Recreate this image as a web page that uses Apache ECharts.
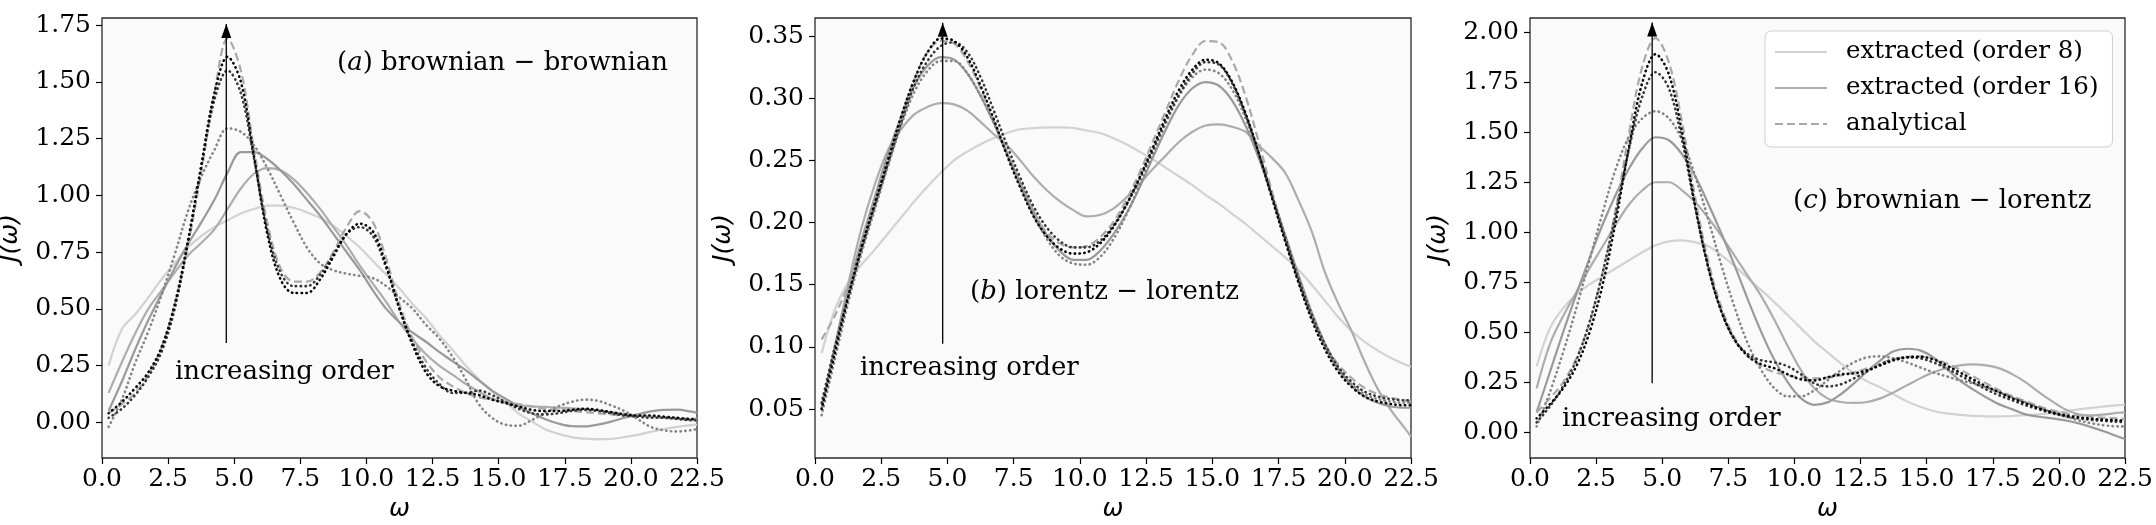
<!DOCTYPE html>
<html>
<head>
<meta charset="utf-8">
<script src="https://cdn.jsdelivr.net/npm/echarts@6/dist/echarts.min.js"></script>
<style>
html,body{margin:0;padding:0;background:#fff;}
#chart{width:2156px;height:525px;}
</style>
</head>
<body>
<div id="chart"></div>
<script>
// ---------- data ----------
const omega = [0.25,0.75,1.25,1.75,2.25,2.75,3.25,3.75,4.25,4.75,5.25,5.75,6.25,6.75,7.25,7.75,8.25,8.75,9.25,9.75,10.25,10.75,11.25,11.75,12.25,12.75,13.25,13.75,14.25,14.75,15.25,15.75,16.25,16.75,17.25,17.75,18.25,18.75,19.25,19.75,20.25,20.75,21.25,21.75,22.25,22.5];

const xTicks = [0,2.5,5,7.5,10,12.5,15,17.5,20,22.5];
const yTicksA = [0,0.25,0.5,0.75,1.0,1.25,1.5,1.75];
const yTicksB = [0.05,0.10,0.15,0.20,0.25,0.30,0.35];
const yTicksC = [0,0.25,0.5,0.75,1.0,1.25,1.5,1.75,2.0];

// (a) brownian - brownian
const aOrder8  = [0.25,0.41,0.475,0.55,0.63,0.70,0.77,0.82,0.86,0.89, 0.92,0.94,0.955,0.955,0.945,0.925,0.90,0.865,0.82,0.77, 0.71,0.65,0.59,0.52,0.46,0.385,0.32,0.25,0.19,0.135, 0.09,0.04,0.005,-0.03,-0.05,-0.065,-0.072,-0.075,-0.073,-0.065, -0.055,-0.042,-0.03,-0.02,-0.012,-0.01];
const aOrder16 = [0.13,0.265,0.39,0.50,0.58,0.66,0.735,0.79,0.85,0.94, 1.03,1.095,1.12,1.11,1.07,1.01,0.94,0.86,0.78,0.69, 0.61,0.53,0.44,0.365,0.30,0.25,0.21,0.17,0.135,0.105, 0.085,0.075,0.07,0.068,0.065,0.062,0.058,0.052,0.045,0.038, 0.03,0.025,0.02,0.015,0.01,0.008];
const aOrder24 = [0.05,0.18,0.32,0.45,0.565,0.68,0.785,0.88,0.98,1.10, 1.19,1.19,1.16,1.11,1.05,0.98,0.91,0.83,0.75,0.67, 0.58,0.50,0.44,0.395,0.355,0.31,0.27,0.23,0.185,0.14, 0.105,0.07,0.04,0.015,-0.005,-0.017,-0.018,-0.01,0.003,0.02, 0.035,0.048,0.055,0.056,0.048,0.042];
const aOrder32 = [-0.02,0.10,0.26,0.40,0.56,0.74,0.93,1.08,1.20,1.295, 1.28,1.22,1.12,1.00,0.88,0.77,0.70,0.67,0.655,0.645, 0.635,0.60,0.55,0.50,0.43,0.37,0.29,0.19,0.08,0.02, -0.01,-0.015,0.01,0.04,0.07,0.09,0.10,0.095,0.075,0.05, 0.015,-0.02,-0.035,-0.04,-0.035,-0.03];
const aOrder40 = [0.02,0.06,0.12,0.20,0.31,0.50,0.79,1.12,1.42,1.55, 1.45,1.16,0.85,0.66,0.60,0.60,0.65,0.74,0.83,0.86, 0.82,0.68,0.50,0.35,0.24,0.17,0.13,0.13,0.14,0.12, 0.09,0.06,0.04,0.035,0.04,0.05,0.055,0.05,0.04,0.03, 0.025,0.02,0.02,0.015,0.01,0.01];
const aOrder48 = [0.04,0.09,0.15,0.22,0.33,0.52,0.80,1.13,1.45,1.61, 1.50,1.17,0.83,0.63,0.57,0.57,0.63,0.73,0.83,0.875, 0.84,0.69,0.50,0.34,0.22,0.16,0.14,0.13,0.12,0.10, 0.085,0.07,0.055,0.05,0.05,0.055,0.06,0.055,0.045,0.035, 0.03,0.03,0.025,0.02,0.015,0.015];
const aAnalytical = [0.04,0.08,0.13,0.21,0.33,0.52,0.78,1.10,1.45,1.69, 1.55,1.20,0.88,0.68,0.62,0.62,0.66,0.75,0.86,0.93, 0.88,0.72,0.52,0.37,0.27,0.20,0.16,0.13,0.11,0.10, 0.09,0.08,0.07,0.06,0.055,0.05,0.045,0.04,0.035,0.03, 0.03,0.025,0.02,0.02,0.015,0.015];

// (b) lorentz - lorentz
const bOrder8  = [0.095,0.13,0.152,0.166,0.178,0.191,0.204,0.217,0.229,0.24, 0.25,0.257,0.263,0.268,0.272,0.275,0.276,0.2765,0.2765,0.276, 0.274,0.272,0.268,0.263,0.257,0.251,0.244,0.237,0.23,0.222, 0.215,0.207,0.199,0.19,0.181,0.172,0.162,0.15,0.137,0.124, 0.113,0.104,0.097,0.091,0.086,0.084];
const bOrder16 = [0.05,0.10,0.15,0.195,0.23,0.258,0.275,0.287,0.293,0.296, 0.295,0.29,0.281,0.271,0.262,0.25,0.237,0.226,0.217,0.21, 0.205,0.206,0.211,0.22,0.231,0.243,0.254,0.265,0.273,0.278, 0.279,0.277,0.273,0.262,0.252,0.24,0.218,0.193,0.16,0.135, 0.113,0.088,0.066,0.049,0.035,0.028];
const bOrder24 = [0.05,0.10,0.145,0.185,0.22,0.255,0.285,0.31,0.326,0.333, 0.331,0.32,0.302,0.28,0.256,0.232,0.209,0.19,0.177,0.17, 0.17,0.177,0.19,0.207,0.228,0.252,0.275,0.295,0.308,0.313, 0.31,0.298,0.278,0.252,0.222,0.19,0.158,0.128,0.103,0.083, 0.069,0.06,0.055,0.052,0.051,0.051];
const bOrder32 = [0.045,0.09,0.135,0.175,0.21,0.245,0.278,0.305,0.322,0.33, 0.33,0.32,0.302,0.28,0.255,0.23,0.206,0.187,0.173,0.167, 0.166,0.172,0.186,0.206,0.23,0.255,0.28,0.302,0.317,0.323, 0.32,0.307,0.284,0.254,0.22,0.186,0.153,0.124,0.1,0.082, 0.07,0.062,0.058,0.056,0.055,0.055];
const bOrder40 = [0.055,0.1,0.14,0.178,0.213,0.247,0.28,0.31,0.33,0.342, 0.345,0.337,0.317,0.29,0.262,0.236,0.213,0.196,0.185,0.18, 0.18,0.185,0.197,0.214,0.235,0.258,0.282,0.303,0.32,0.329, 0.327,0.312,0.287,0.256,0.222,0.188,0.155,0.126,0.102,0.084, 0.072,0.064,0.06,0.058,0.057,0.057];
const bOrder48 = [0.05,0.095,0.14,0.18,0.215,0.25,0.285,0.315,0.337,0.348, 0.346,0.333,0.31,0.283,0.254,0.228,0.205,0.189,0.179,0.175, 0.176,0.183,0.196,0.214,0.236,0.26,0.285,0.307,0.323,0.331, 0.328,0.313,0.288,0.256,0.22,0.185,0.152,0.122,0.098,0.08, 0.068,0.06,0.056,0.054,0.053,0.053];
const bAnalytical = [0.106,0.125,0.15,0.18,0.215,0.25,0.285,0.315,0.337,0.346, 0.344,0.33,0.308,0.282,0.255,0.23,0.208,0.192,0.183,0.18, 0.181,0.188,0.2,0.218,0.24,0.265,0.29,0.315,0.335,0.346, 0.345,0.33,0.302,0.265,0.225,0.187,0.152,0.124,0.102,0.086, 0.075,0.067,0.062,0.059,0.057,0.056];

// (c) brownian - lorentz
const cOrder8  = [0.33,0.52,0.62,0.69,0.74,0.78,0.82,0.86,0.90,0.935, 0.955,0.96,0.95,0.93,0.885,0.83,0.77,0.71,0.65,0.585, 0.52,0.455,0.40,0.345,0.295,0.255,0.225,0.19,0.155,0.128, 0.107,0.095,0.088,0.083,0.08,0.08,0.082,0.086,0.09,0.097, 0.105,0.115,0.123,0.13,0.136,0.138];
const cOrder16 = [0.22,0.44,0.58,0.70,0.82,0.93,1.04,1.14,1.21,1.25, 1.25,1.21,1.15,1.07,0.98,0.88,0.78,0.68,0.56,0.43, 0.31,0.22,0.17,0.152,0.147,0.152,0.17,0.2,0.235,0.27, 0.30,0.322,0.335,0.34,0.335,0.32,0.29,0.25,0.2,0.155, 0.115,0.09,0.085,0.09,0.098,0.1];
const cOrder24 = [0.10,0.30,0.50,0.69,0.87,1.04,1.19,1.32,1.42,1.475, 1.46,1.39,1.28,1.14,0.99,0.83,0.66,0.5,0.36,0.25, 0.17,0.138,0.15,0.19,0.245,0.305,0.36,0.405,0.418,0.41, 0.375,0.318,0.26,0.215,0.175,0.14,0.115,0.09,0.078,0.07, 0.06,0.045,0.025,0.003,-0.022,-0.033];
const cOrder32 = [0.03,0.2,0.4,0.62,0.86,1.1,1.32,1.48,1.57,1.605, 1.57,1.46,1.28,1.06,0.83,0.62,0.44,0.31,0.22,0.18, 0.18,0.21,0.26,0.31,0.35,0.375,0.38,0.37,0.35,0.325, 0.30,0.28,0.26,0.245,0.225,0.2,0.175,0.15,0.125,0.1, 0.08,0.06,0.045,0.035,0.03,0.03];
const cOrder40 = [0.05,0.13,0.23,0.36,0.55,0.8,1.1,1.42,1.68,1.80, 1.72,1.46,1.12,0.82,0.6,0.46,0.39,0.36,0.35,0.33, 0.29,0.245,0.23,0.24,0.27,0.305,0.34,0.365,0.375,0.37, 0.35,0.32,0.285,0.25,0.215,0.185,0.16,0.135,0.115,0.095, 0.08,0.07,0.062,0.057,0.053,0.052];
const cOrder48 = [0.07,0.14,0.22,0.33,0.5,0.74,1.06,1.43,1.75,1.89, 1.79,1.5,1.13,0.82,0.6,0.46,0.38,0.34,0.32,0.29, 0.265,0.26,0.275,0.29,0.295,0.31,0.335,0.36,0.375,0.378, 0.365,0.335,0.3,0.265,0.23,0.2,0.17,0.145,0.12,0.1, 0.085,0.075,0.068,0.063,0.06,0.058];
const cAnalytical = [0.1,0.17,0.25,0.37,0.55,0.8,1.12,1.5,1.83,1.97, 1.85,1.55,1.17,0.85,0.62,0.47,0.38,0.33,0.30,0.285, 0.275,0.27,0.275,0.285,0.3,0.32,0.345,0.365,0.378,0.38, 0.37,0.345,0.315,0.28,0.245,0.21,0.18,0.155,0.13,0.11, 0.095,0.085,0.078,0.073,0.07,0.068];

// "increasing order" arrows: [omega, start J, end J]
const arrowA = [4.7, 0.35, 1.755];
const arrowB = [4.82, 0.1025, 0.3607];
const arrowC = [4.62, 0.246, 2.048];

const legendNames = ['extracted (order 8)', 'extracted (order 16)', 'analytical'];

// ---------- chart ----------
const SERIF = 'DejaVu Serif';
const DOT = [0.4, 4.4];
const styles = {
  o8:  {color:'#d2d2d2', type:'solid', width:2.2},
  o16: {color:'#adadad', type:'solid', width:2.2},
  o24: {color:'#9a9a9a', type:'solid', width:2.2},
  o32: {color:'#858585', type:DOT, width:2.6, cap:'round'},
  o40: {color:'#383838', type:DOT, width:2.6, cap:'round'},
  o48: {color:'#050505', type:DOT, width:2.6, cap:'round'},
  an:  {color:'#a9a9a9', type:[8,4], width:2.2}
};
function pts(ys){ return omega.map((x,i)=>[x, ys[i]]); }
function line(name, ys, idx, st, z){
  return {
    name: name, type:'line', xAxisIndex: idx, yAxisIndex: idx,
    data: pts(ys), smooth: 0.35, symbol:'none', showSymbol:false, z: z,
    lineStyle: {color: st.color, type: st.type, width: st.width, cap: st.cap || 'butt'},
    itemStyle: {color: st.color},
    emphasis: {disabled: true}
  };
}
function arrow(a, idx){
  return {
    type:'line', xAxisIndex: idx, yAxisIndex: idx, z: 20, silent: true,
    symbol:'none',
    data: [
      {value:[a[0], a[1]], symbol:'none'},
      {value:[a[0], a[2]], symbol:'triangle', symbolSize:[10,14], symbolOffset:[0,7]}
    ],
    lineStyle:{color:'#000', width:1.3},
    itemStyle:{color:'#000'},
    emphasis:{disabled:true}
  };
}
const panels = [
  {d:[aOrder8,aOrder16,aOrder24,aOrder32,aOrder40,aOrder48,aAnalytical], ar:arrowA},
  {d:[bOrder8,bOrder16,bOrder24,bOrder32,bOrder40,bOrder48,bAnalytical], ar:arrowB},
  {d:[cOrder8,cOrder16,cOrder24,cOrder32,cOrder40,cOrder48,cAnalytical], ar:arrowC}
];
const series = [];
panels.forEach((p, i)=>{
  series.push(line(legendNames[0], p.d[0], i, styles.o8, 2));
  series.push(line(legendNames[1], p.d[1], i, styles.o16, 3));
  series.push(line('extracted (order 24)', p.d[2], i, styles.o24, 4));
  series.push(line('analytical', p.d[6], i, styles.an, 5));
  series.push(line('extracted (order 32)', p.d[3], i, styles.o32, 6));
  series.push(line('extracted (order 40)', p.d[4], i, styles.o40, 7));
  series.push(line('extracted (order 48)', p.d[5], i, styles.o48, 8));
  series.push(arrow(p.ar, i));
});

const gridDefs = [
  {left:102, top:18, width:595, height:440},
  {left:815, top:18, width:596, height:440},
  {left:1530, top:18, width:595, height:440}
];
const yRanges = [[-0.157,1.781],[0.0106,0.3645],[-0.128,2.071]];
const yTicks = [yTicksA, yTicksB, yTicksC];

const grids = gridDefs.map(g=>Object.assign({show:true, backgroundColor:'#fafafa', borderColor:'#2b2b2b', borderWidth:1.3, containLabel:false, outerBoundsMode:'none'}, g));
const xAxes = gridDefs.map((g,i)=>({
  type:'value', gridIndex:i, min:0, max:22.5, interval:2.5, position:'bottom',
  name:'ω', nameLocation:'middle', nameGap:36,
  nameTextStyle:{fontFamily:'DejaVu Sans', fontStyle:'italic', fontSize:25, color:'#000'},
  axisLine:{show:false, onZero:false},
  axisTick:{show:true, inside:false, length:6, lineStyle:{color:'#000', width:1.2}, customValues: xTicks},
  axisLabel:{fontFamily:SERIF, fontSize:25, color:'#000', margin:9, customValues: xTicks, formatter:v=>Number(v).toFixed(1)},
  splitLine:{show:false}
}));
const yAxes = gridDefs.map((g,i)=>({
  type:'value', gridIndex:i, min:yRanges[i][0], max:yRanges[i][1], position:'left',
  name:'J(ω)', nameLocation:'middle', nameGap:79, nameRotate:90,
  nameTextStyle:{fontFamily:'DejaVu Sans', fontStyle:'italic', fontSize:25, color:'#000'},
  axisLine:{show:false, onZero:false},
  axisTick:{show:true, inside:false, length:6, lineStyle:{color:'#000', width:1.2}, customValues: yTicks[i]},
  axisLabel:{fontFamily:SERIF, fontSize:25, color:'#000', margin:11, customValues: yTicks[i], formatter:v=>Number(v).toFixed(2)},
  splitLine:{show:false}
}));

function label(x, y, txt){
  return {type:'text', x:x, y:y, z:100, silent:true,
    style:{text:txt, fontFamily:SERIF, fontSize:26, fill:'#000', verticalAlign:'middle', align:'left',
      rich:{i:{fontFamily:SERIF, fontStyle:'italic', fontSize:26, fill:'#000'}}}};
}
const graphics = [
  label(337, 63, '({i|a}) brownian − brownian'),
  label(175, 372, 'increasing order'),
  label(970, 292, '({i|b}) lorentz − lorentz'),
  label(860, 368, 'increasing order'),
  label(1793, 201, '({i|c}) brownian − lorentz'),
  label(1562, 419, 'increasing order')
];

const option = {
  animation:false,
  backgroundColor:'#ffffff',
  grid: grids, xAxis: xAxes, yAxis: yAxes,
  legend:{
    data: legendNames, orient:'vertical', left:1765, top:31,
    padding:[7,14,9,9], itemWidth:52, itemHeight:14, itemGap:8,
    backgroundColor:'rgba(255,255,255,0.85)', borderColor:'#cfcfcf', borderWidth:1, borderRadius:6,
    itemStyle:{opacity:0, borderWidth:0},
    textStyle:{fontFamily:SERIF, fontSize:24.5, color:'#000', lineHeight:28, padding:[0,0,0,14]},
    selectedMode:false
  },
  graphic: graphics,
  series: series
};
const chart = echarts.init(document.getElementById('chart'), null, {renderer:'canvas'});
chart.setOption(option);
</script>
</body>
</html>
